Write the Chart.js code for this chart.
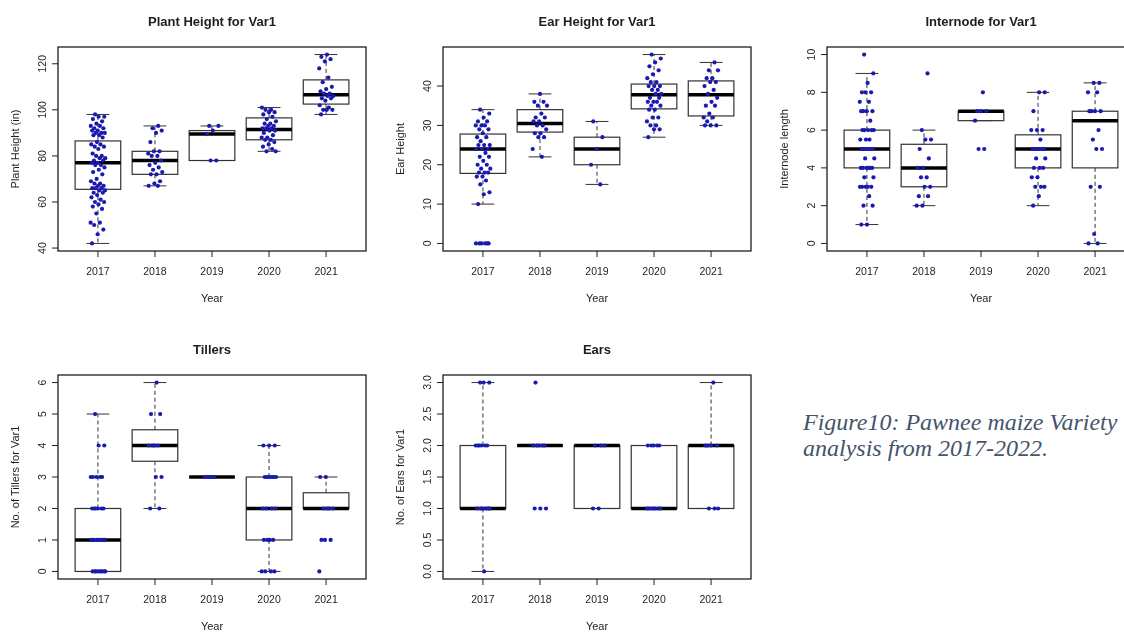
<!DOCTYPE html>
<html>
<head>
<meta charset="utf-8">
<title>Pawnee maize Variety 2017-2021</title>
<script src="https://cdn.jsdelivr.net/npm/chart.js@4.4.1/dist/chart.umd.min.js"></script>
<style>
  html, body { margin: 0; padding: 0; background: #fff; width: 1124px; height: 633px; overflow: hidden; position: relative; }
  canvas.panel { position: absolute; }
  .caption {
    position: absolute; left: 803px; top: 409px;
    font-family: 'Liberation Serif', 'Times New Roman', serif;
    font-style: italic; font-size: 24px; line-height: 26px; color: #44546a;
    white-space: nowrap;
  }
</style>
</head>
<body>
<canvas id="plantChart" class="panel" width="372" height="310" style="left:0;top:0"></canvas>
<canvas id="earChart" class="panel" width="375" height="310" style="left:380px;top:0"></canvas>
<canvas id="internodeChart" class="panel" width="380" height="310" style="left:760px;top:0"></canvas>
<canvas id="tillersChart" class="panel" width="372" height="310" style="left:0;top:328px"></canvas>
<canvas id="earsChart" class="panel" width="375" height="310" style="left:380px;top:328px"></canvas>
<div class="caption">Figure10: Pawnee maize Variety<br>analysis from 2017-2022.</div>

<script>
const years = ['2017', '2018', '2019', '2020', '2021'];

// Box stats per year: [lower whisker, Q1, median, Q3, upper whisker]
const plantBoxes = [[42, 65.5, 77, 86.5, 98], [67, 72, 78, 82, 93], [78, 78, 89.5, 91, 93], [82, 87, 91.5, 96.5, 101], [98, 102.5, 106.5, 113, 124]];
const earBoxes = [[10, 17.8, 24, 27.8, 34], [22, 28.3, 30.5, 34, 38], [15, 20, 24, 27, 31], [27, 34.2, 37.8, 40.5, 48], [30, 32.4, 37.8, 41.3, 46]];
const internodeBoxes = [[1, 4, 5, 6, 9], [2, 3, 4, 5.25, 6], [6.5, 6.5, 7, 7, 7], [2, 4, 5, 5.75, 8], [0, 4, 6.5, 7, 8.5]];
const tillerBoxes = [[0, 0, 1, 2, 5], [2, 3.5, 4, 4.5, 6], [3, 3, 3, 3, 3], [0, 1, 2, 3, 4], [2, 2, 2, 2.5, 3]];
const earCountBoxes = [[0, 1, 1, 2, 3], [2, 2, 2, 2, 2], [1, 1, 2, 2, 2], [1, 1, 1, 2, 2], [1, 1, 2, 2, 3]];

// Individual plants per year
const plantPoints = [
  [98, 97, 97, 96, 95, 94, 93, 93, 92, 92, 91, 91, 90, 90, 90, 89, 89, 88, 86, 85, 85, 84, 84, 83, 81, 80, 80, 79, 79, 78, 78, 77, 77, 76, 76, 75, 74, 73, 72, 70, 69, 68, 68, 67, 67, 66, 66, 66, 65, 65, 64, 64, 63, 62, 61, 60, 60, 59, 58, 57, 55, 51, 51, 50, 48, 46, 42],
  [93, 92, 91, 90, 86, 82, 82, 81, 80, 80, 78, 77, 76, 75, 74, 73, 72, 72, 69, 68, 67, 67],
  [93, 93, 91, 89.5, 78, 78],
  [101, 100, 100, 99, 99, 98, 97, 96, 95, 94, 94, 93, 93, 92, 92, 92, 91, 91, 90, 89, 88, 88, 87, 87, 86, 85, 84, 83, 82, 82],
  [124, 123, 122, 121, 118, 114, 112, 110, 109, 108, 107, 107, 106, 106, 105, 105, 104, 102, 101, 100, 100, 100, 98]
];
const earPoints = [
  [34, 33, 32, 31, 31, 30, 30, 30, 29, 29, 28, 27, 27, 26, 25, 25, 25, 24, 24, 24, 23, 22, 22, 21, 20, 20, 19, 19, 18, 18, 18, 17, 17, 16, 15, 13, 12.5, 10, 0, 0, 0, 0, 0, 0],
  [38, 36, 36, 35, 35, 33, 32, 32, 31, 31, 30, 30, 29, 28, 28, 27, 27, 24, 22],
  [31, 27, 24, 20, 15],
  [48, 47, 46, 45, 44, 43, 42, 41, 41, 40, 40, 40, 39, 39, 38, 38, 37, 37, 36, 36, 36, 35, 35, 34, 34, 32, 32, 31, 30, 30, 29, 29, 27],
  [46, 44, 44, 42, 42, 41, 41, 40, 39, 38, 37, 36, 35, 35, 33, 32, 32, 31, 30, 30, 30]
];
const internodePoints = [
  [10, 9, 8.5, 8, 8, 8, 7.5, 7.5, 7, 7, 7, 7, 6.5, 6, 6, 6, 6, 6, 5.5, 5.5, 5.5, 5, 5, 5, 5, 5, 4.5, 4.5, 4, 4, 4, 4, 4, 4, 3.5, 3.5, 3, 3, 3, 3, 3, 2.5, 2, 2, 1, 1],
  [9, 6, 5.5, 5.5, 5, 4.5, 4, 4, 3.5, 3.5, 3, 3, 2.5, 2.5, 2, 2],
  [8, 7, 7, 7, 6.5, 5, 5],
  [8, 8, 7, 6, 6, 6, 5.5, 5, 5, 5, 5, 5, 4.5, 4.5, 4, 4, 4, 3.5, 3.5, 3, 3, 3, 2.5, 2],
  [8.5, 8.5, 8, 8, 7, 7, 7, 7, 6, 5.5, 5, 5, 3, 3, 0.5, 0, 0]
];
const tillerPoints = [
  [5, 4, 4, 3, 3, 3, 3, 3, 2, 2, 2, 2, 2, 2, 1, 1, 1, 1, 1, 1, 0, 0, 0, 0, 0, 0, 0, 0],
  [6, 5, 5, 4, 4, 4, 4, 3, 3, 2, 2],
  [3, 3, 3, 3],
  [4, 4, 4, 3, 3, 3, 3, 3, 3, 3, 2, 2, 2, 2, 1, 1, 1, 1, 0, 0, 0, 0],
  [3, 3, 2, 2, 2, 2, 1, 1, 1, 0]
];
const earCountPoints = [
  [3, 3, 3, 2, 2, 2, 2, 2, 2, 1, 1, 1, 1, 1, 1, 0],
  [3, 2, 2, 2, 2, 2, 1, 1, 1],
  [2, 2, 2, 1, 1],
  [2, 2, 2, 2, 2, 1, 1, 1, 1, 1, 1],
  [3, 2, 2, 2, 2, 1, 1, 1]
];

// Tick values on each y axis
const plantTicks = [40, 60, 80, 100, 120];
const earTicks = [0, 10, 20, 30, 40];
const internodeTicks = [0, 2, 4, 6, 8, 10];
const tillerTicks = [0, 1, 2, 3, 4, 5, 6];
const earCountTicks = [0, 0.5, 1, 1.5, 2, 2.5, 3];

const INK = '#1e1e1e';
const POINT_COLOR = '#1a1ab0';

// spread points sideways so stacks of equal values stay visible
function jitter(i) {
    const f = (i * 0.6180339887 + 0.31) % 1;
    return (f - 0.5) * 0.26;
}

// Boxes, whiskers and R-style axes drawn with the chart's own scales
const boxplotPlugin = {
    id: 'boxplot',
    beforeDatasetsDraw(chart, args, opts) {
        const ctx = chart.ctx;
        const x = chart.scales.x, y = chart.scales.y;
        ctx.save();
        opts.boxes.forEach((b, i) => {
            const cx = x.getPixelForValue(i + 1);
            const halfBox = x.getPixelForValue(i + 1.4) - cx;
            const halfCap = x.getPixelForValue(i + 1.2) - cx;
            const [lo, q1, med, q3, hi] = b.map(v => y.getPixelForValue(v));

            // dashed whiskers
            ctx.strokeStyle = '#333';
            ctx.lineWidth = 1;
            ctx.setLineDash([4, 3]);
            ctx.beginPath();
            ctx.moveTo(cx, q3); ctx.lineTo(cx, hi);
            ctx.moveTo(cx, q1); ctx.lineTo(cx, lo);
            ctx.stroke();
            ctx.setLineDash([]);

            // staples
            ctx.beginPath();
            ctx.moveTo(cx - halfCap, hi); ctx.lineTo(cx + halfCap, hi);
            ctx.moveTo(cx - halfCap, lo); ctx.lineTo(cx + halfCap, lo);
            ctx.stroke();

            // box
            ctx.fillStyle = '#fff';
            ctx.fillRect(cx - halfBox, q3, halfBox * 2, q1 - q3);
            ctx.strokeStyle = '#333';
            ctx.lineWidth = 1.2;
            ctx.strokeRect(cx - halfBox, q3, halfBox * 2, q1 - q3);

            // median
            ctx.strokeStyle = '#000';
            ctx.lineWidth = 3.5;
            ctx.beginPath();
            ctx.moveTo(cx - halfBox, med); ctx.lineTo(cx + halfBox, med);
            ctx.stroke();
        });
        ctx.restore();
    },
    afterDraw(chart, args, opts) {
        const ctx = chart.ctx;
        const area = chart.chartArea;
        const x = chart.scales.x, y = chart.scales.y;
        ctx.save();

        // frame
        ctx.strokeStyle = INK;
        ctx.lineWidth = 1.3;
        ctx.strokeRect(area.left, area.top, area.right - area.left, area.bottom - area.top);

        ctx.fillStyle = INK;
        ctx.lineWidth = 1;
        ctx.font = '10.5px "Liberation Sans", Arial, sans-serif';
        ctx.textAlign = 'center';
        ctx.textBaseline = 'middle';

        // x axis: one tick per year
        years.forEach((label, i) => {
            const px = x.getPixelForValue(i + 1);
            ctx.beginPath();
            ctx.moveTo(px, area.bottom); ctx.lineTo(px, area.bottom + 6);
            ctx.stroke();
            ctx.fillText(label, px, area.bottom + 21);
        });

        // y axis with vertical labels
        opts.ticks.forEach(v => {
            const py = y.getPixelForValue(v);
            ctx.beginPath();
            ctx.moveTo(area.left, py); ctx.lineTo(area.left - 6, py);
            ctx.stroke();
            ctx.save();
            ctx.translate(area.left - 15, py);
            ctx.rotate(-Math.PI / 2);
            ctx.fillText(v.toFixed(opts.decimals), 0, 0);
            ctx.restore();
        });

        // axis titles
        ctx.font = '11px "Liberation Sans", Arial, sans-serif';
        ctx.fillText('Year', (area.left + area.right) / 2, area.bottom + 48);
        ctx.save();
        ctx.translate(area.left - 42, (area.top + area.bottom) / 2);
        ctx.rotate(-Math.PI / 2);
        ctx.fillText(opts.yLabel, 0, 0);
        ctx.restore();

        // main title
        ctx.font = 'bold 13px "Liberation Sans", Arial, sans-serif';
        ctx.fillText(opts.title, (area.left + area.right) / 2, area.top - 25);

        ctx.restore();
    }
};

function makePanel(id, title, yLabel, boxes, points, ticks, decimals, pad) {
    const all = points.flat();
    const lo = Math.min(...all), hi = Math.max(...all);
    const ext = (hi - lo) * 0.04;

    const data = [];
    let n = 0;
    points.forEach((vals, i) => {
        vals.forEach(v => {
            data.push({ x: i + 1 + jitter(n++), y: v });
        });
    });

    return new Chart(document.getElementById(id), {
        type: 'scatter',
        data: {
            datasets: [{
                data: data,
                backgroundColor: POINT_COLOR,
                borderColor: POINT_COLOR,
                pointRadius: 2.1,
                borderWidth: 0
            }]
        },
        options: {
            responsive: false,
            animation: false,
            events: [],
            layout: { padding: { left: pad[0], top: 47, right: pad[1], bottom: 59 } },
            scales: {
                x: { type: 'linear', min: 0.3, max: 5.7, display: false },
                y: { type: 'linear', min: lo - ext, max: hi + ext, display: false }
            },
            plugins: {
                legend: { display: false },
                tooltip: { enabled: false },
                boxplot: { title, yLabel, boxes, ticks, decimals }
            }
        },
        plugins: [boxplotPlugin]
    });
}

makePanel('plantChart', 'Plant Height for Var1', 'Plant Height (in)', plantBoxes, plantPoints, plantTicks, 0, [58, 6]);
makePanel('earChart', 'Ear Height for Var1', 'Ear Height', earBoxes, earPoints, earTicks, 0, [63, 4]);
makePanel('internodeChart', 'Internode for Var1', 'Internode length', internodeBoxes, internodePoints, internodeTicks, 0, [67, 5]);
makePanel('tillersChart', 'Tillers', 'No. of Tillers for Var1', tillerBoxes, tillerPoints, tillerTicks, 0, [58, 6]);
makePanel('earsChart', 'Ears', 'No. of Ears for Var1', earCountBoxes, earCountPoints, earCountTicks, 1, [63, 4]);
</script>
</body>
</html>
